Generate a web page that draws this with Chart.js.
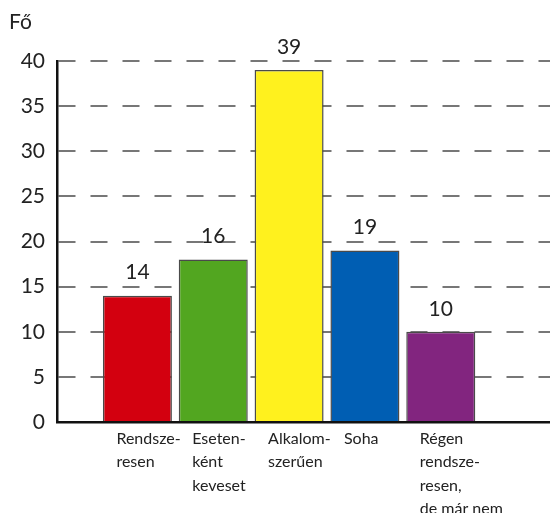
<!DOCTYPE html>
<html>
<head>
<meta charset="utf-8">
<script src="https://cdn.jsdelivr.net/npm/chart.js@4.4.1/dist/chart.umd.min.js"></script>
<style>
  html, body { margin: 0; padding: 0; background: #fff; }
  #wrap { position: relative; width: 550px; height: 513px; }
</style>
</head>
<body>
<div id="wrap"><canvas id="chart" width="550" height="513"></canvas></div>
<script>
// Chart data
const categories = [
    ['Rendsze-', 'resen'],
    ['Eseten-', 'ként', 'keveset'],
    ['Alkalom-', 'szerűen'],
    ['Soha'],
    ['Régen', 'rendsze-', 'resen,', 'de már nem']
];
const positions = [1, 2, 3, 4, 5];
const values = [14, 18, 39, 19, 10];
const valueLabels = ['14', '16', '39', '19', '10'];
const barColors = ['#D3000F', '#52A620', '#FFF11E', '#005EB3', '#82257F'];
const yTicks = [0, 5, 10, 15, 20, 25, 30, 35, 40];
const yUnit = 'Fő';

const FONT = 'Lato, "Open Sans", sans-serif';

// Draw value labels above bars and the unit text
const labelPlugin = {
    id: 'valueLabels',
    afterDatasetsDraw(chart) {
        const ctx = chart.ctx;
        const meta = chart.getDatasetMeta(0);
        ctx.save();
        ctx.fillStyle = '#222';
        ctx.font = '21px ' + FONT;
        ctx.textAlign = 'center';
        ctx.textBaseline = 'middle';
        meta.data.forEach((bar, i) => {
            ctx.fillText(valueLabels[i], bar.x, bar.y - 23);
        });
        ctx.textAlign = 'left';
        ctx.font = '21px ' + FONT;
        ctx.fillText(yUnit, 9, 22);
        ctx.restore();
    }
};

const ctx = document.getElementById('chart').getContext('2d');

new Chart(ctx, {
    type: 'bar',
    data: {
        datasets: [{
            data: positions.map((x, i) => ({ x: x, y: values[i] })),
            backgroundColor: barColors,
            borderColor: '#4a4a4a',
            borderWidth: 1.5,
            borderSkipped: 'bottom',
            barPercentage: 0.91,
            categoryPercentage: 1
        }]
    },
    options: {
        responsive: false,
        animation: false,
        layout: {
            padding: { top: 61, right: 0, left: 0, bottom: 0 }
        },
        plugins: {
            legend: { display: false },
            tooltip: { enabled: false }
        },
        scales: {
            x: {
                type: 'linear',
                offset: false,
                min: -0.06,
                max: 6.44,
                afterFit: (scale) => { scale.height = 91; },
                afterBuildTicks: (scale) => {
                    scale.ticks = positions.map(v => ({ value: v }));
                },
                grid: { display: false, drawTicks: false, offset: false },
                border: { display: true, color: '#111', width: 2.5 },
                ticks: {
                    align: 'start',
                    labelOffset: -21,
                    padding: 5,
                    color: '#222',
                    font: { family: FONT, size: 16, lineHeight: 1.47 },
                    callback: (v) => categories[positions.indexOf(v)] || ''
                }
            },
            y: {
                min: 0,
                max: 40,
                afterFit: (scale) => { scale.width = 57; },
                afterBuildTicks: (scale) => {
                    scale.ticks = yTicks.map(v => ({ value: v }));
                },
                grid: {
                    color: '#777',
                    lineWidth: 2,
                    drawTicks: false
                },
                border: { display: true, color: '#111', width: 2.5, dash: [17, 15] },
                ticks: {
                    padding: 12,
                    color: '#222',
                    font: { family: FONT, size: 21 }
                }
            }
        }
    },
    plugins: [labelPlugin]
});
</script>
</body>
</html>
